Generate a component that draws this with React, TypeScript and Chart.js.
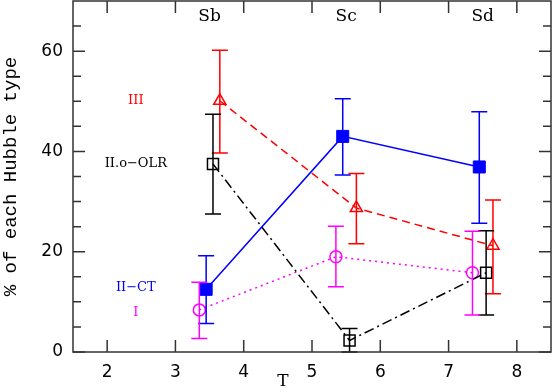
import React, { useEffect, useRef } from 'react';
import { Chart, registerables } from 'chart.js';
Chart.register(...registerables);

// Top-axis Hubble type labels
const typeLabels = ['Sb', 'Sc', 'Sd'];
const typeT = [3.5, 5.5, 7.5];

// II-CT (blue, filled squares, solid)
const ctT = [3.45, 5.45, 7.45];
const ctY = [12.5, 43.0, 36.9];
const ctLo = [5.7, 35.3, 25.7];
const ctHi = [19.2, 50.5, 47.9];

// III (red, open triangles, dashed)
const iiiT = [3.65, 5.65, 7.65];
const iiiY = [50.1, 28.7, 21.2];
const iiiLo = [39.7, 21.6, 11.6];
const iiiHi = [60.2, 35.6, 30.3];

// II.o-OLR (black, open squares, dash-dot)
const olrT = [3.55, 5.55, 7.55];
const olrY = [37.5, 2.3, 15.8];
const olrLo = [27.5, 0.0, 7.4];
const olrHi = [47.4, 4.7, 24.2];

// I (magenta, open circles, dotted)
const iT = [3.35, 5.35, 7.35];
const iY = [8.4, 19.0, 15.8];
const iLo = [2.7, 13.0, 7.4];
const iHi = [13.9, 25.1, 24.1];

// In-plot series labels
const labelText = ['III', 'II.o\u2212OLR', 'II\u2212CT', 'I'];
const labelColor = ['#ff0000', '#000000', '#0000ff', '#ff00ff'];
const labelT = [2.42, 2.42, 2.42, 2.42];
const labelY = [50.1, 37.6, 12.8, 7.8];

// Axis ticks
const xTicks = [2, 3, 4, 5, 6, 7, 8];
const yTicks = [0, 20, 40, 60];
const yMinor = [5, 10, 15, 25, 30, 35, 45, 50, 55, 65];

const pts = (xs: number[], ys: number[]) => xs.map((x, i) => ({ x, y: ys[i] }));

const AXIS_COLOR = '#333333';

const decorPlugin = {
  id: 'decor',
  afterDatasetsDraw(chart: any) {
    const ctx = chart.ctx;
    const xs = chart.scales.x;
    const ys = chart.scales.y;
    const a = chart.chartArea;
    ctx.save();
    // error bars
    chart.data.datasets.forEach((ds: any) => {
      ctx.strokeStyle = ds.borderColor;
      ctx.lineWidth = 1.5;
      ctx.setLineDash([]);
      ds.data.forEach((p: any, i: number) => {
        const px = xs.getPixelForValue(p.x);
        const lo = ys.getPixelForValue(ds.errLo[i]);
        const hi = ys.getPixelForValue(ds.errHi[i]);
        ctx.beginPath();
        ctx.moveTo(px, lo);
        ctx.lineTo(px, hi);
        ctx.moveTo(px - 8, lo);
        ctx.lineTo(px + 8, lo);
        ctx.moveTo(px - 8, hi);
        ctx.lineTo(px + 8, hi);
        ctx.stroke();
      });
    });
    // frame
    ctx.strokeStyle = AXIS_COLOR;
    ctx.lineWidth = 1.5;
    ctx.strokeRect(a.left, a.top, a.right - a.left, a.bottom - a.top);
    // ticks
    ctx.beginPath();
    xTicks.forEach((v) => {
      const px = xs.getPixelForValue(v);
      ctx.moveTo(px, a.bottom);
      ctx.lineTo(px, a.bottom - 12);
      ctx.moveTo(px, a.top);
      ctx.lineTo(px, a.top + 12);
    });
    yTicks.forEach((v) => {
      const py = ys.getPixelForValue(v);
      ctx.moveTo(a.left, py);
      ctx.lineTo(a.left + 12, py);
      ctx.moveTo(a.right, py);
      ctx.lineTo(a.right - 12, py);
    });
    yMinor.forEach((v) => {
      const py = ys.getPixelForValue(v);
      ctx.moveTo(a.left, py);
      ctx.lineTo(a.left + 8, py);
      ctx.moveTo(a.right, py);
      ctx.lineTo(a.right - 8, py);
    });
    ctx.stroke();
    // top type labels
    ctx.fillStyle = '#000';
    ctx.font = '17px "DejaVu Serif"';
    ctx.textAlign = 'center';
    ctx.textBaseline = 'middle';
    typeLabels.forEach((t, i) => {
      ctx.fillText(t, xs.getPixelForValue(typeT[i]), a.top + 16);
    });
    // series labels
    ctx.font = '13px "DejaVu Serif"';
    labelText.forEach((t, i) => {
      ctx.fillStyle = labelColor[i];
      ctx.fillText(t, xs.getPixelForValue(labelT[i]), ys.getPixelForValue(labelY[i]));
    });
    // x-axis title
    ctx.fillStyle = '#000';
    ctx.font = '17px "DejaVu Serif"';
    ctx.fillText('T', 283, 382);
    ctx.restore();
  },
};

export default function App() {
  const ref = useRef<HTMLCanvasElement>(null);
  useEffect(() => {
    if (!ref.current) return;
    const chart = new Chart(ref.current, {
      type: 'scatter',
      data: {
        datasets: [
          {
            label: 'II-CT',
            data: pts(ctT, ctY),
            errLo: ctLo,
            errHi: ctHi,
            showLine: true,
            borderColor: '#0000ff',
            backgroundColor: '#0000ff',
            borderWidth: 1.5,
            pointStyle: 'rect',
            pointRadius: 8.5,
            pointBackgroundColor: '#0000ff',
            pointBorderWidth: 1,
          } as any,
          {
            label: 'III',
            data: pts(iiiT, iiiY),
            errLo: iiiLo,
            errHi: iiiHi,
            showLine: true,
            borderColor: '#ff0000',
            borderWidth: 1.5,
            borderDash: [8, 5],
            pointStyle: 'triangle',
            pointRadius: 7,
            pointBackgroundColor: 'rgba(0,0,0,0)',
            pointBorderWidth: 1.5,
          } as any,
          {
            label: 'II.o-OLR',
            data: pts(olrT, olrY),
            errLo: olrLo,
            errHi: olrHi,
            showLine: true,
            borderColor: '#000000',
            borderWidth: 1.5,
            borderDash: [10, 4, 2, 4],
            pointStyle: 'rect',
            pointRadius: 7.8,
            pointBackgroundColor: 'rgba(0,0,0,0)',
            pointBorderWidth: 1.5,
          } as any,
          {
            label: 'I',
            data: pts(iT, iY),
            errLo: iLo,
            errHi: iHi,
            showLine: true,
            borderColor: '#ff00ff',
            borderWidth: 1.5,
            borderDash: [2, 4],
            pointStyle: 'circle',
            pointRadius: 6,
            pointBackgroundColor: 'rgba(0,0,0,0)',
            pointBorderWidth: 1.5,
          } as any,
        ],
      },
      options: {
        animation: false,
        responsive: false,
        devicePixelRatio: 1,
        layout: { autoPadding: false, padding: { top: 1, right: 2, left: 0, bottom: 0 } },
        plugins: { legend: { display: false }, tooltip: { enabled: false } },
        scales: {
          x: {
            type: 'linear',
            min: 1.5,
            max: 8.5,
            grid: { display: false, drawTicks: false },
            border: { display: false },
            ticks: { font: { family: 'DejaVu Sans', size: 17 }, color: '#000', padding: 10, maxRotation: 0 },
            afterBuildTicks: (s: any) => { s.ticks = xTicks.map((v) => ({ value: v })); },
            afterFit: (s: any) => {
              s.height = 40;
              s.paddingLeft = 0;
              s.paddingRight = 0;
              s.paddingTop = 0;
              s.paddingBottom = 0;
            },
          },
          y: {
            type: 'linear',
            min: 0,
            max: 70,
            grid: { display: false, drawTicks: false },
            border: { display: false },
            ticks: { font: { family: 'DejaVu Sans', size: 17 }, color: '#000', padding: 10 },
            afterBuildTicks: (s: any) => { s.ticks = yTicks.map((v) => ({ value: v })); },
            afterFit: (s: any) => {
              s.width = 73;
              s.paddingLeft = 0;
              s.paddingRight = 0;
              s.paddingTop = 0;
              s.paddingBottom = 0;
            },
            title: {
              display: true,
              text: '% of each Hubble type',
              color: '#000',
              font: { family: 'Liberation Mono', size: 19 },
              padding: 0,
            },
          },
        },
      } as any,
      plugins: [decorPlugin],
    });
    return () => chart.destroy();
  }, []);
  return (
    <div style={{ position: 'absolute', left: 0, top: 0, width: 553, height: 392 }}>
      <canvas ref={ref} width={553} height={392} />
    </div>
  );
}
